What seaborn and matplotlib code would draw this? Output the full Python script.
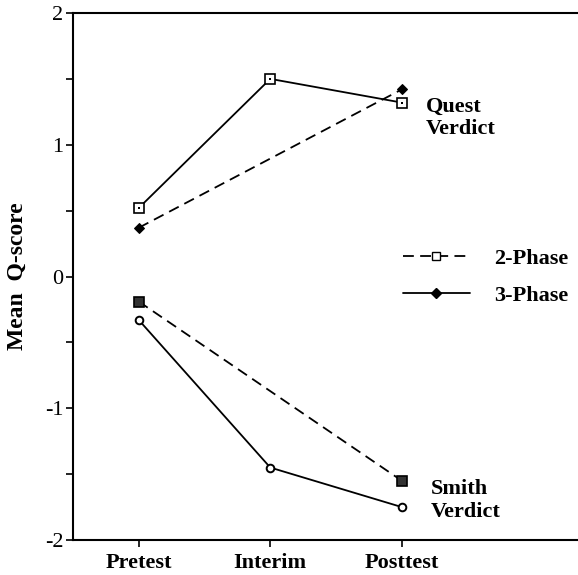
import pandas as pd
import matplotlib.pyplot as plt
import seaborn as sns
import numpy as np

phases = ['Pretest', 'Interim', 'Posttest']

# Quest verdict
quest_3_phase = ['Pretest', 'Interim', 'Posttest']
quest_3_vals = [0.52, 1.50, 1.32]
quest_2_phase = ['Pretest', 'Posttest']
quest_2_vals = [0.37, 1.42]

# Smith verdict
smith_2_phase = ['Pretest', 'Posttest']
smith_2_vals = [-0.19, -1.55]
smith_3_phase = ['Pretest', 'Interim', 'Posttest']
smith_3_vals = [-0.33, -1.45, -1.75]

yticks = [-2, -1, 0, 1, 2]


def frame(labels, vals):
    return pd.DataFrame({'x': [phases.index(p) for p in labels], 'y': vals})


sns.set_style('ticks')
plt.rcParams['font.family'] = ['Liberation Serif', 'DejaVu Serif']
plt.rcParams.update({'text.color': 'black', 'axes.labelcolor': 'black',
                     'xtick.color': 'black', 'ytick.color': 'black'})

fig = plt.figure(figsize=(5.78, 5.75), dpi=100)
ax = fig.add_axes([73 / 578, 35 / 575, 1 - 73 / 578, (540 - 13) / 575])

lw = 1.3
dash = (6, 3.5)

# Quest: solid line with open squares (dotted centre)
q3 = frame(quest_3_phase, quest_3_vals)
sns.lineplot(data=q3, x='x', y='y', ax=ax, color='black', lw=lw,
             marker='s', markersize=7, markerfacecolor='white',
             markeredgecolor='black', markeredgewidth=1.2)
sns.scatterplot(data=q3, x='x', y='y', ax=ax, color='black', s=3,
                marker='s', zorder=5, linewidth=0)

# Quest: dashed line with filled diamonds
q2 = frame(quest_2_phase, quest_2_vals)
sns.lineplot(data=q2, x='x', y='y', ax=ax, color='black', lw=lw,
             linestyle=(0, dash),
             marker='D', markersize=5.5, markerfacecolor='black',
             markeredgecolor='black')

# Smith: dashed line with dark squares
s2 = frame(smith_2_phase, smith_2_vals)
sns.lineplot(data=s2, x='x', y='y', ax=ax, color='black', lw=lw,
             linestyle=(0, dash),
             marker='s', markersize=6.5, markerfacecolor='#333333',
             markeredgecolor='black', markeredgewidth=1.2)

# Smith: solid line with open circles
s3 = frame(smith_3_phase, smith_3_vals)
sns.lineplot(data=s3, x='x', y='y', ax=ax, color='black', lw=lw,
             marker='o', markersize=5.5, markerfacecolor='white',
             markeredgecolor='black', markeredgewidth=1.4)

ax.set_xlim(-0.5, 3.34)
ax.set_ylim(-2, 2)
ax.set_xticks(range(len(phases)))
ax.set_xticklabels(phases, fontsize=16, fontweight='bold')
ax.set_yticks(yticks)
ax.set_yticklabels([str(v) for v in yticks], fontsize=16)
ax.set_yticks(np.arange(-1.5, 2, 1.0), minor=True)
ax.tick_params(axis='both', which='major', direction='out', length=5,
               width=1.2, pad=2)
ax.tick_params(axis='y', which='minor', direction='out', length=5, width=1.2)
ax.tick_params(axis='x', pad=4)
ax.set_xlabel('')
ax.set_ylabel('Mean  Q-score', fontsize=17, fontweight='bold', labelpad=12)

for side in ['left', 'top', 'bottom']:
    ax.spines[side].set_linewidth(1.5)
    ax.spines[side].set_color('black')
ax.spines['right'].set_visible(False)

ax.text(2.18, 1.205, 'Quest\nVerdict', fontsize=16, fontweight='bold',
        ha='left', va='center', linespacing=1.15)
ax.text(2.22, -1.70, 'Smith\nVerdict', fontsize=16, fontweight='bold',
        ha='left', va='center', linespacing=1.15)

h2 = plt.Line2D([], [], color='black', lw=lw, linestyle=(0, dash),
                marker='s', markersize=6, markerfacecolor='white',
                markeredgecolor='black')
h3 = plt.Line2D([], [], color='black', lw=lw, marker='D', markersize=5,
                markerfacecolor='black', markeredgecolor='black')
leg = ax.legend([h2, h3], ['2-Phase', '3-Phase'], frameon=False,
                loc='center left', bbox_to_anchor=(0.614, 0.499),
                handlelength=3.0, handletextpad=1.1, labelspacing=0.75,
                prop={'family': 'Liberation Serif', 'weight': 'bold', 'size': 16})

fig.savefig('out.png', dpi=100)
